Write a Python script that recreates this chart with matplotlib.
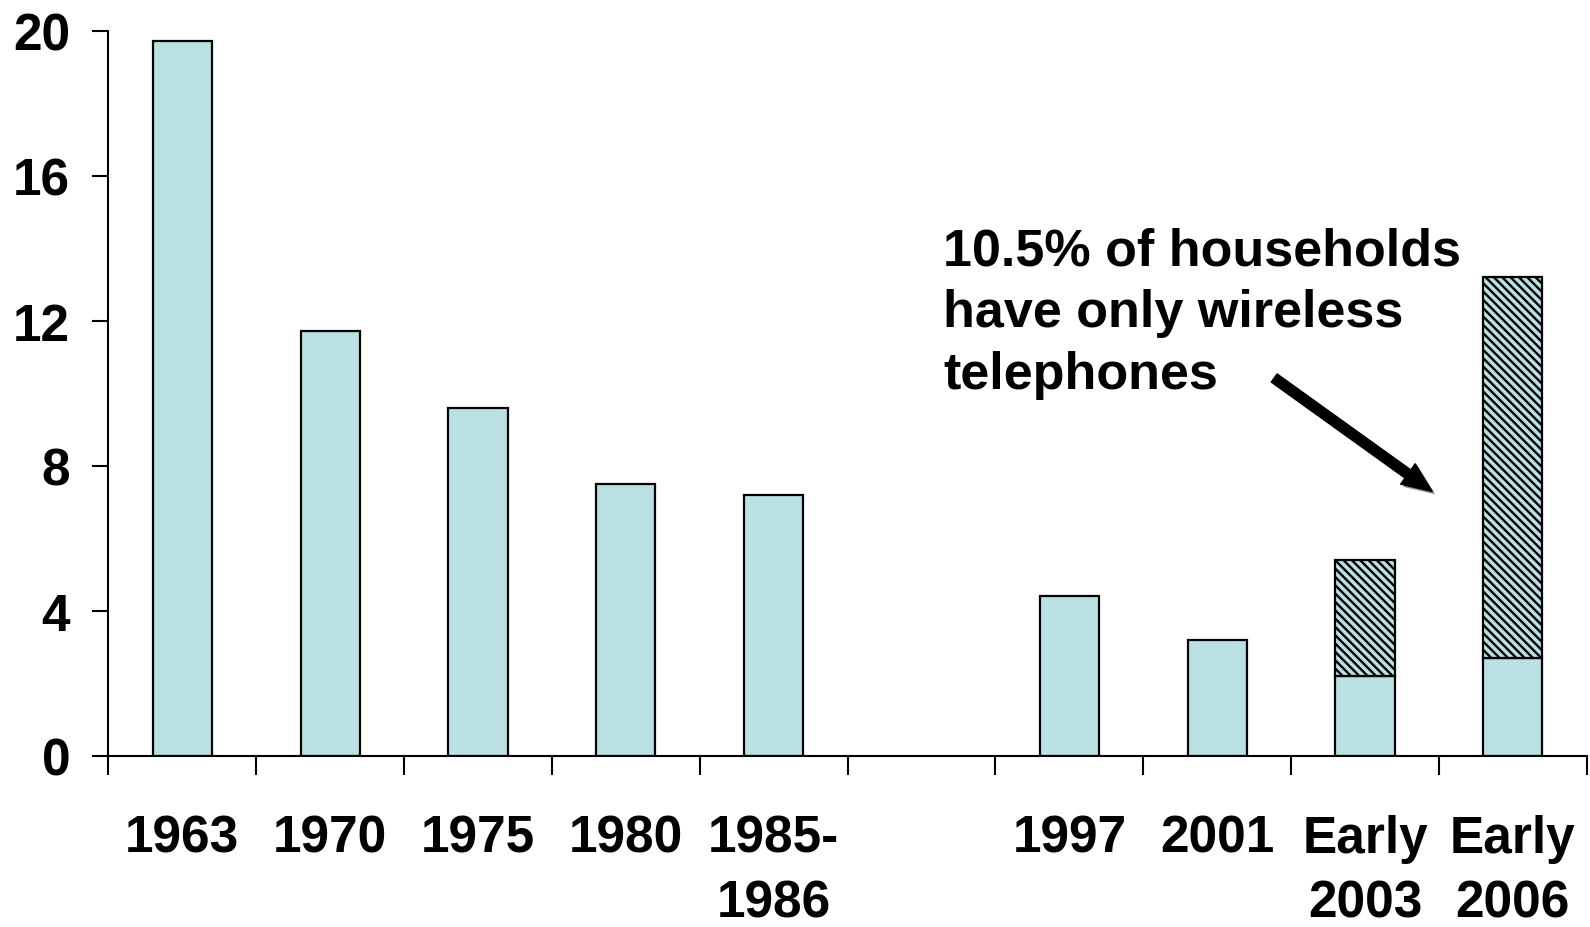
import numpy as np
import matplotlib
matplotlib.use("Agg")
import matplotlib.pyplot as plt
import matplotlib.patheffects as pe

# ---- data ----
categories = ["1963", "1970", "1975", "1980", "1985-\n1986", "",
              "1997", "2001", "Early\n2003", "Early\n2006"]
landline_only = [19.7, 11.7, 9.6, 7.5, 7.2, None, 4.4, 3.2, 2.2, 2.7]
wireless_only = [0, 0, 0, 0, 0, None, 0, 0, 3.2, 10.5]
y_ticks = [0, 4, 8, 12, 16, 20]
note = "10.5% of households\nhave only wireless\ntelephones"

bar_color = "#BAE0E3"
plt.rcParams["font.family"] = ["Liberation Sans", "DejaVu Sans"]
plt.rcParams["font.weight"] = "bold"
plt.rcParams["hatch.linewidth"] = 1.7

fig = plt.figure(figsize=(15.9, 9.28), dpi=100)
ax = fig.add_axes([0.0682, 0.1848, 0.9298, 0.7812])

idx = [i for i, v in enumerate(landline_only) if v is not None]
base = np.array([landline_only[i] for i in idx])
top = np.array([wireless_only[i] for i in idx])
ax.bar(idx, base, width=0.4, color=bar_color, edgecolor="black", linewidth=1.6, zorder=2)
has_top = top > 0
ax.bar(np.array(idx)[has_top], top[has_top], bottom=base[has_top], width=0.4,
       color=bar_color, edgecolor="black", linewidth=1.6, hatch="\\\\\\\\", zorder=2)

ax.set_xlim(-0.5, len(categories) - 0.5)
ax.set_ylim(0, 20)
ax.set_yticks(y_ticks)
ax.tick_params(axis="y", direction="out", length=11.5, width=1.5, pad=16, labelsize=37)

# boundaries get the tick marks, centres get the labels
ax.set_xticks(np.arange(len(categories) + 1) - 0.5)
ax.set_xticklabels([])
ax.tick_params(axis="x", which="major", direction="out", length=13.7, width=1.5)
ax.set_xticks(np.arange(len(categories)), minor=True)
ax.set_xticklabels(categories, minor=True, fontsize=37, linespacing=1.4)
ax.tick_params(axis="x", which="minor", length=0, pad=42)

for s in ["top", "right"]:
    ax.spines[s].set_visible(False)
for s in ["left", "bottom"]:
    ax.spines[s].set_linewidth(1.5)

ax.text(5.145, 14.6, note, fontsize=37.5, va="top", ha="left", linespacing=1.34)

ax.annotate("", xy=(8.47, 7.24), xytext=(7.37, 10.46),
            arrowprops=dict(arrowstyle="simple,head_length=1.2,head_width=1.0,tail_width=0.4",
                            mutation_scale=18, color="black",
                            path_effects=[pe.withSimplePatchShadow(offset=(2, -2),
                                                                   shadow_rgbFace="#888888",
                                                                   alpha=1)]))

fig.savefig("out.png", dpi=100)
